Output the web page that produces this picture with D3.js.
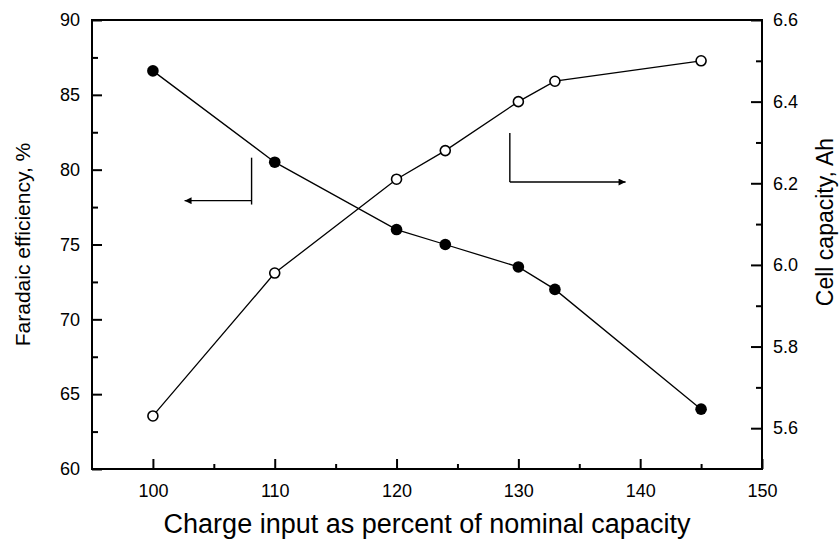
<!DOCTYPE html>
<html>
<head>
<meta charset="utf-8">
<script src="https://cdn.jsdelivr.net/npm/d3@7"></script>
<style>
  body { margin: 0; background: #fff; }
  text { font-family: "Liberation Sans", Arial, sans-serif; fill: #000; }
</style>
</head>
<body>
<div id="chart"></div>
<script>
//charge input (% of nominal capacity) for every point
var chargeInput = [100, 110, 120, 124, 130, 133, 145];
//left axis series, filled dots
var faradaicEff = [86.6, 80.5, 76, 75, 73.5, 72, 64];
//right axis series, open dots
var cellCapacity = [5.63, 5.98, 6.21, 6.28, 6.40, 6.45, 6.50];

//tick values
var xTicks = [100, 110, 120, 130, 140, 150];
var xMinor = [105, 115, 125, 135, 145];
var leftTicks = [60, 65, 70, 75, 80, 85, 90];
var leftMinor = [62.5, 67.5, 72.5, 77.5, 82.5, 87.5];
var rightTicks = [5.6, 5.8, 6.0, 6.2, 6.4, 6.6];
var rightMinor = [5.7, 5.9, 6.1, 6.3, 6.5];

//the two "which axis" arrows, in data units
var leftArrow = { x: 108.1, yTop: 80.8, yBottom: 77.67, yArrow: 77.93, tip: 102.6 };
var rightArrow = { x: 129.3, yTop: 6.323, yArrow: 6.203, tip: 138.8 };

var width = 839, height = 539;
var margin = { top: 20, right: 77, bottom: 70, left: 92 };

var svg = d3.select('#chart').append('svg')
    .attr('width', width)
    .attr('height', height);

var x = d3.scaleLinear().domain([95, 150]).range([margin.left, width - margin.right]);
var yL = d3.scaleLinear().domain([60, 90]).range([height - margin.bottom, margin.top]);
var yR = d3.scaleLinear().domain([5.5, 6.6]).range([height - margin.bottom, margin.top]);

var plotW = width - margin.left - margin.right;
var plotH = height - margin.top - margin.bottom;

//frame
svg.append('rect')
    .attr('x', margin.left).attr('y', margin.top)
    .attr('width', plotW).attr('height', plotH)
    .attr('fill', 'none').attr('stroke', '#000').attr('stroke-width', 2);

//axes: ticks point inside the plot
function styleAxis(g) {
    g.select('.domain').remove();
    g.selectAll('line').attr('stroke', '#000').attr('stroke-width', 2);
    g.selectAll('text').attr('font-size', '18px').attr('font-family', '"Liberation Sans", Arial, sans-serif');
}

var bottom = height - margin.bottom;
svg.append('g').attr('transform', 'translate(0,' + bottom + ')')
    .call(d3.axisBottom(x).tickValues(xMinor).tickSize(-5).tickFormat(''))
    .call(styleAxis);
svg.append('g').attr('transform', 'translate(0,' + bottom + ')')
    .call(d3.axisBottom(x).tickValues(xTicks).tickSizeInner(-10).tickSizeOuter(0).tickPadding(15).tickFormat(d3.format('d')))
    .call(styleAxis);

svg.append('g').attr('transform', 'translate(' + margin.left + ',0)')
    .call(d3.axisLeft(yL).tickValues(leftMinor).tickSize(-6).tickFormat(''))
    .call(styleAxis);
svg.append('g').attr('transform', 'translate(' + margin.left + ',0)')
    .call(d3.axisLeft(yL).tickValues(leftTicks).tickSizeInner(-10).tickSizeOuter(0).tickPadding(12).tickFormat(d3.format('d')))
    .call(styleAxis);

var right = width - margin.right;
svg.append('g').attr('transform', 'translate(' + right + ',0)')
    .call(d3.axisRight(yR).tickValues(rightMinor).tickSize(-6).tickFormat(''))
    .call(styleAxis);
svg.append('g').attr('transform', 'translate(' + right + ',0)')
    .call(d3.axisRight(yR).tickValues(rightTicks).tickSizeInner(-11).tickSizeOuter(0).tickPadding(11).tickFormat(d3.format('.1f')))
    .call(styleAxis);

//axis titles
svg.append('text')
    .attr('x', (margin.left + right) / 2).attr('y', 533)
    .attr('text-anchor', 'middle').attr('font-size', '27px')
    .text('Charge input as percent of nominal capacity');

svg.append('text')
    .attr('transform', 'translate(30,' + (margin.top + plotH / 2) + ') rotate(-90)')
    .attr('text-anchor', 'middle').attr('font-size', '21px')
    .text('Faradaic efficiency, %');

svg.append('text')
    .attr('transform', 'translate(833,222) rotate(-90)')
    .attr('text-anchor', 'middle').attr('font-size', '23px')
    .text('Cell capacity, Ah');

//series
var effLine = d3.line().x(function(d, i) { return x(chargeInput[i]); }).y(function(d) { return yL(d); });
var capLine = d3.line().x(function(d, i) { return x(chargeInput[i]); }).y(function(d) { return yR(d); });

svg.append('path').attr('d', effLine(faradaicEff))
    .attr('fill', 'none').attr('stroke', '#000').attr('stroke-width', 1.3);
svg.append('path').attr('d', capLine(cellCapacity))
    .attr('fill', 'none').attr('stroke', '#000').attr('stroke-width', 1.3);

svg.selectAll('.eff').data(faradaicEff).enter().append('circle')
    .attr('class', 'eff')
    .attr('cx', function(d, i) { return x(chargeInput[i]); })
    .attr('cy', function(d) { return yL(d); })
    .attr('r', 5.8).attr('fill', '#000');

svg.selectAll('.cap').data(cellCapacity).enter().append('circle')
    .attr('class', 'cap')
    .attr('cx', function(d, i) { return x(chargeInput[i]); })
    .attr('cy', function(d) { return yR(d); })
    .attr('r', 5).attr('fill', '#fff').attr('stroke', '#000').attr('stroke-width', 1.6);

//arrows
svg.append('defs').append('marker')
    .attr('id', 'head').attr('viewBox', '0 0 10 10')
    .attr('refX', 10).attr('refY', 5)
    .attr('markerWidth', 11).attr('markerHeight', 7)
    .attr('markerUnits', 'userSpaceOnUse')
    .attr('orient', 'auto')
    .append('path').attr('d', 'M0,0L10,5L0,10z').attr('fill', '#000');

svg.append('line')
    .attr('x1', x(leftArrow.x)).attr('x2', x(leftArrow.x))
    .attr('y1', yL(leftArrow.yTop)).attr('y2', yL(leftArrow.yBottom))
    .attr('stroke', '#000').attr('stroke-width', 1.4);
svg.append('line')
    .attr('x1', x(leftArrow.x)).attr('x2', x(leftArrow.tip))
    .attr('y1', yL(leftArrow.yArrow)).attr('y2', yL(leftArrow.yArrow))
    .attr('stroke', '#000').attr('stroke-width', 1.4)
    .attr('marker-end', 'url(#head)');

svg.append('line')
    .attr('x1', x(rightArrow.x)).attr('x2', x(rightArrow.x))
    .attr('y1', yR(rightArrow.yTop)).attr('y2', yR(rightArrow.yArrow))
    .attr('stroke', '#000').attr('stroke-width', 1.4);
svg.append('line')
    .attr('x1', x(rightArrow.x)).attr('x2', x(rightArrow.tip))
    .attr('y1', yR(rightArrow.yArrow)).attr('y2', yR(rightArrow.yArrow))
    .attr('stroke', '#000').attr('stroke-width', 1.4)
    .attr('marker-end', 'url(#head)');
</script>
</body>
</html>
